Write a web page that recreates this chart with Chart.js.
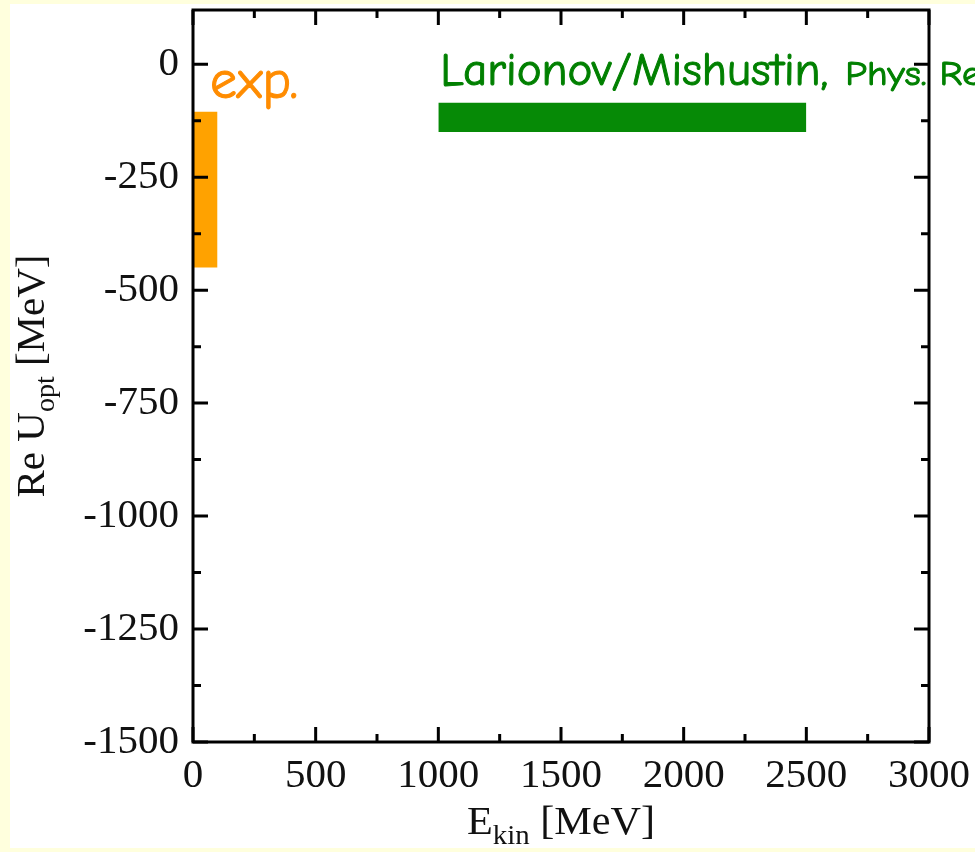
<!DOCTYPE html>
<html>
<head>
<meta charset="utf-8">
<script src="https://cdn.jsdelivr.net/npm/chart.js@4"></script>
<style>
  html, body { margin: 0; padding: 0; background: #ffffdd; }
  #sheet { position: absolute; left: 10px; top: 4px; width: 965px; height: 844px; background: #fff; }
  #wrap { position: absolute; left: 0; top: 0; width: 975px; height: 852px; }
</style>
</head>
<body>
<div id="sheet"></div>
<div id="wrap"><canvas id="myChart" width="975" height="852"></canvas></div>
<script>
// axis ticks
var xTicks = [0, 500, 1000, 1500, 2000, 2500, 3000];
var xMinor = [250, 750, 1250, 1750, 2250, 2750];
var yTicks = [0, -250, -500, -750, -1000, -1250, -1500];
var yMinor = [-125, -375, -625, -875, -1125, -1375];

// experimental band
var expE = [0, 100];
var expU = [-105, -450];

// Larionov/Mishustin band
var lmE = [1000, 2500];
var lmU = [-85, -150];

const serif = '"Liberation Serif", "Times New Roman", serif';
const hand = '"Comic Sans MS", "Comic Neue", "DejaVu Sans", sans-serif';

function edge(xs, yv) {
  return xs.map((x) => ({ x: x, y: yv }));
}

function band(xs, ys, color) {
  return [
    { data: edge(xs, ys[0]), fill: "+1", backgroundColor: color, borderWidth: 0, pointRadius: 0 },
    { data: edge(xs, ys[1]), fill: false, borderWidth: 0, pointRadius: 0 },
  ];
}

// squeeze or stretch a string to a given width, with a slightly thickened stroke
function fitText(ctx, text, x, y, width) {
  const w = ctx.measureText(text).width;
  ctx.save();
  ctx.translate(x, y);
  ctx.scale(width / w, 1);
  ctx.fillText(text, 0, 0);
  ctx.strokeStyle = ctx.fillStyle;
  ctx.lineWidth = 1;
  ctx.strokeText(text, 0, 0);
  ctx.restore();
}

const labels = {
  id: "labels",
  afterDatasetsDraw(chart) {
    const { ctx, scales: { x, y } } = chart;
    ctx.save();
    ctx.textBaseline = "alphabetic";

    ctx.fillStyle = "#ff8c00";
    ctx.font = "54px " + hand;
    fitText(ctx, "exp.", x.getPixelForValue(69), y.getPixelForValue(-75), 88);

    ctx.fillStyle = "#008000";
    ctx.font = "47px " + hand;
    var gx = x.getPixelForValue(lmE[0]) + 2;
    var gy = y.getPixelForValue(-46);
    fitText(ctx, "Larionov/Mishustin,", gx, gy, 388);
    ctx.font = "35px " + hand;
    fitText(ctx, "Phys. Rev", gx + 405, gy, 152);
    ctx.restore();
  },
  afterDraw(chart) {
    const { ctx, chartArea: a, scales: { x, y } } = chart;
    ctx.save();
    ctx.strokeStyle = "#000";
    ctx.lineWidth = 3;
    ctx.strokeRect(a.left, a.top, a.right - a.left, a.bottom - a.top);

    ctx.beginPath();
    const xt = (vals, len) => vals.forEach((v) => {
      var px = x.getPixelForValue(v);
      ctx.moveTo(px, a.bottom); ctx.lineTo(px, a.bottom - len);
      ctx.moveTo(px, a.top); ctx.lineTo(px, a.top + len);
    });
    const yt = (vals, len) => vals.forEach((v) => {
      var py = y.getPixelForValue(v);
      ctx.moveTo(a.left, py); ctx.lineTo(a.left + len, py);
      ctx.moveTo(a.right, py); ctx.lineTo(a.right - len, py);
    });
    xt(xTicks, 15); xt(xMinor, 8);
    yt(yTicks, 15); yt(yMinor, 8);
    ctx.stroke();

    // axis titles with subscripts
    ctx.fillStyle = "#111";
    ctx.textBaseline = "alphabetic";
    const big = "41px " + serif, small = "28px " + serif;
    const title = (parts) => {
      var total = 0;
      parts.forEach((p) => { ctx.font = p[1] ? small : big; total += ctx.measureText(p[0]).width; });
      var pos = -total / 2;
      parts.forEach((p) => {
        ctx.font = p[1] ? small : big;
        ctx.fillText(p[0], pos, p[1] ? 10 : 0);
        pos += ctx.measureText(p[0]).width;
      });
    };
    ctx.save();
    ctx.translate((a.left + a.right) / 2, 834);
    ctx.scale(1.03, 1);
    title([["E", false], ["kin", true], [" [MeV]", false]]);
    ctx.restore();

    ctx.save();
    ctx.translate(44, (a.top + a.bottom) / 2);
    ctx.rotate(-Math.PI / 2);
    title([["Re U", false], ["opt", true], [" [MeV]", false]]);
    ctx.restore();
    ctx.restore();
  },
};

const tickFont = { family: serif, size: 41 };

const config = {
  type: "line",
  data: {
    datasets: [...band(expE, expU, "#ffa200"), ...band(lmE, lmU, "#068a06")],
  },
  options: {
    responsive: false,
    animation: false,
    layout: { padding: { top: 10, right: 46, left: 0, bottom: 0 } },
    plugins: { legend: { display: false }, tooltip: { enabled: false } },
    scales: {
      x: {
        type: "linear",
        min: 0,
        max: 3000,
        afterBuildTicks: (s) => { s.ticks = xTicks.map((v) => ({ value: v })); },
        afterFit: (s) => { s.height = 110; s.paddingLeft = 0; s.paddingRight = 0; },
        grid: { display: false, drawTicks: false },
        border: { display: false },
        ticks: { color: "#111", font: tickFont, padding: 10, maxRotation: 0, autoSkip: false, callback: (v) => String(v) },
      },
      y: {
        type: "linear",
        min: -1500,
        max: 120,
        afterBuildTicks: (s) => { s.ticks = yTicks.map((v) => ({ value: v })); },
        afterFit: (s) => { s.width = 193; s.paddingTop = 0; s.paddingBottom = 0; },
        grid: { display: false, drawTicks: false },
        border: { display: false },
        ticks: { color: "#111", font: tickFont, padding: 14, autoSkip: false, callback: (v) => String(v) },
      },
    },
  },
  plugins: [labels],
};

const myChart = new Chart(document.getElementById("myChart"), config);
</script>
</body>
</html>
